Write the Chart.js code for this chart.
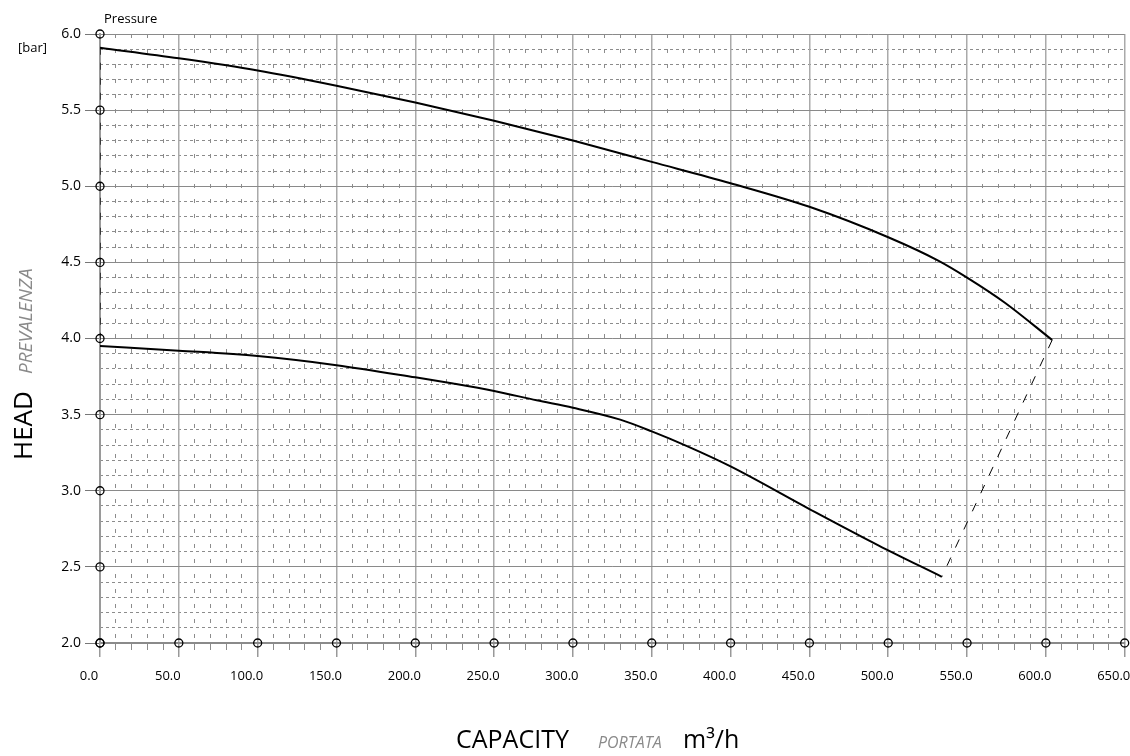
<!DOCTYPE html>
<html>
<head>
<meta charset="utf-8">
<script src="https://cdn.jsdelivr.net/npm/chart.js@4.4.0/dist/chart.umd.min.js"></script>
<style>
  html, body { margin: 0; padding: 0; background: #fff; }
  #wrap { position: relative; width: 1130px; height: 756px; }
  canvas { display: block; }
</style>
</head>
<body>
<div id="wrap"><canvas id="c" width="1130" height="756"></canvas></div>
<script>
// ---- data ----
const xTickValues = [0, 50, 100, 150, 200, 250, 300, 350, 400, 450, 500, 550, 600, 650];
const yTickValues = [2.0, 2.5, 3.0, 3.5, 4.0, 4.5, 5.0, 5.5, 6.0];

const capacityHigh = [0, 50, 100, 150, 200, 250, 300, 350, 400, 450, 500, 532, 550, 574, 604];
const headHigh     = [5.91, 5.84, 5.76, 5.66, 5.55, 5.43, 5.30, 5.16, 5.02, 4.865, 4.665, 4.51, 4.40, 4.235, 3.99];

const capacityLow  = [0, 50, 100, 150, 200, 224, 250, 277, 300, 330, 350, 372, 400, 450, 494, 534];
const headLow      = [3.95, 3.92, 3.885, 3.825, 3.745, 3.704, 3.655, 3.594, 3.545, 3.467, 3.39, 3.295, 3.16, 2.88, 2.64, 2.435];

const xTitleMain = 'CAPACITY';
const xTitleItalian = 'PORTATA';
const xTitleUnit = 'm³/h';
const yTitleMain = 'HEAD';
const yTitleItalian = 'PREVALENZA';
const yUnit = '[bar]';
const yCaption = 'Pressure';

// ---- build ----
const FONT = "'Open Sans', 'DejaVu Sans', sans-serif";
const toPts = (xs, ys) => xs.map((x, i) => ({ x: x, y: ys[i] }));
const highPts = toPts(capacityHigh, headHigh);
const lowPts = toPts(capacityLow, headLow);
const markerPts = yTickValues.map(v => ({ x: xTickValues[0], y: v }))
  .concat(xTickValues.map(v => ({ x: v, y: yTickValues[0] })));

const isMajorX = v => Math.round(v) % 50 === 0;
const isMajorY = v => Math.round(v * 10) % 5 === 0;

const titlePlugin = {
  id: 'titles',
  afterDraw(chart) {
    const ctx = chart.ctx;
    ctx.save();
    ctx.fillStyle = '#000';
    ctx.textBaseline = 'alphabetic';
    ctx.textAlign = 'left';
    ctx.font = "13px " + FONT;
    ctx.fillText(yCaption, 104, 23);
    ctx.fillText(yUnit, 18, 52);

    // x title
    ctx.font = "25px " + FONT;
    ctx.fillText(xTitleMain, 456, 748);
    ctx.fillStyle = '#8a8a8a';
    ctx.font = "italic 16px " + FONT;
    ctx.fillText(xTitleItalian, 598, 748);
    ctx.fillStyle = '#000';
    ctx.font = "25px " + FONT;
    ctx.fillText(xTitleUnit, 683, 748);

    // y title (rotated)
    ctx.translate(32, 460);
    ctx.rotate(-Math.PI / 2);
    ctx.font = "26px " + FONT;
    ctx.fillText(yTitleMain, 0, 0);
    ctx.fillStyle = '#8a8a8a';
    ctx.font = "italic 19px " + FONT;
    ctx.fillText(yTitleItalian, 86, 0);
    ctx.restore();
  }
};

new Chart(document.getElementById('c'), {
  type: 'scatter',
  data: {
    datasets: [
      { label: 'high', data: highPts, showLine: true, borderColor: '#000', borderWidth: 2,
        pointRadius: 0, cubicInterpolationMode: 'monotone', fill: false },
      { label: 'low', data: lowPts, showLine: true, borderColor: '#000', borderWidth: 2,
        pointRadius: 0, cubicInterpolationMode: 'monotone', fill: false },
      { label: 'startLimit', data: [highPts[0], lowPts[0]], showLine: true, borderColor: '#000',
        borderWidth: 1.3, borderDash: [7, 8], pointRadius: 0 },
      { label: 'endLimit', data: [highPts[highPts.length - 1], lowPts[lowPts.length - 1]], showLine: true,
        borderColor: '#000', borderWidth: 1, borderDash: [9, 11], pointRadius: 0 },
      { label: 'markers', data: markerPts, showLine: false, pointRadius: 4, pointHoverRadius: 4,
        pointBorderColor: '#000', pointBackgroundColor: 'rgba(0,0,0,0)', pointBorderWidth: 1.3, clip: false }
    ]
  },
  options: {
    responsive: false,
    animation: false,
    devicePixelRatio: 1,
    events: [],
    layout: { padding: { top: 34, right: 2, left: 0, bottom: 0 } },
    plugins: { legend: { display: false }, tooltip: { enabled: false } },
    scales: {
      xMinor: {
        type: 'linear', position: { y: 2 }, min: 0, max: 650,
        ticks: { display: false, stepSize: 10 },
        grid: {
          color: c => (c.tick && isMajorX(c.tick.value)) ? 'rgba(0,0,0,0)' : '#8c8c8c',
          tickColor: c => (c.tick && isMajorX(c.tick.value)) ? 'rgba(0,0,0,0)' : '#8c8c8c',
          lineWidth: 1, drawTicks: true, tickLength: 7
        },
        border: { display: false, dash: [4, 11] }
      },
      yMinor: {
        type: 'linear', position: { x: 0 }, min: 2, max: 6,
        ticks: { display: false, stepSize: 0.1 },
        grid: {
          color: c => (c.tick && isMajorY(c.tick.value)) ? 'rgba(0,0,0,0)' : '#8c8c8c',
          lineWidth: 1, drawTicks: false
        },
        border: { display: false, dash: [3, 3] }
      },
      x: {
        type: 'linear', position: 'bottom', min: 0, max: 650,
        afterBuildTicks: s => { s.ticks = xTickValues.map(v => ({ value: v })); },
        afterFit: s => { s.height = 113; s.paddingLeft = 0; s.paddingRight = 0; },
        ticks: { autoSkip: false, maxRotation: 0, minRotation: 0, labelOffset: -11, padding: 11,
          color: '#000', font: { family: FONT, size: 13 }, callback: v => Number(v).toFixed(1) },
        grid: { color: '#aaaaaa', lineWidth: 1.5, tickLength: 14, tickColor: '#999' },
        border: { color: '#8a8a8a', width: 2 }
      },
      y: {
        type: 'linear', position: 'left', min: 2, max: 6,
        afterBuildTicks: s => { s.ticks = yTickValues.map(v => ({ value: v })); },
        afterFit: s => { s.width = 100; s.paddingTop = 0; s.paddingBottom = 0; },
        ticks: { padding: 4, color: '#000', font: { family: FONT, size: 14 },
          callback: v => Number(v).toFixed(1) },
        grid: { color: '#8a8a8a', lineWidth: 1, tickLength: 15, tickColor: '#777' },
        border: { color: '#9a9a9a', width: 2 }
      }
    }
  },
  plugins: [titlePlugin]
});
</script>
</body>
</html>
